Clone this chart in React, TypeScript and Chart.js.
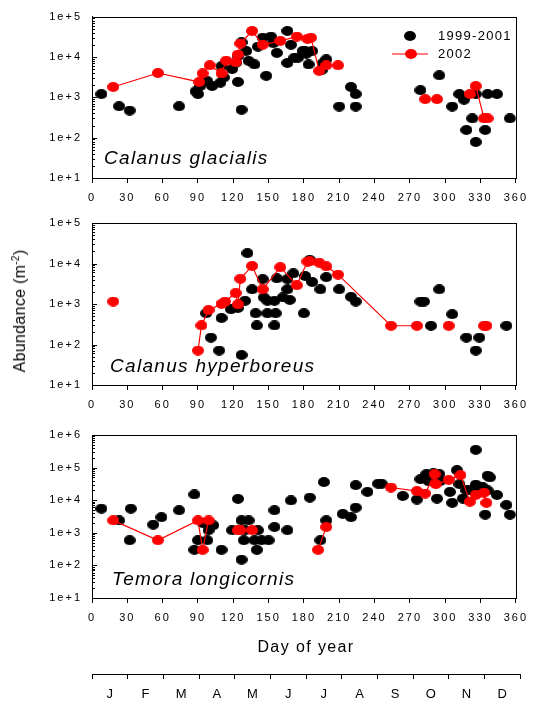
import React, { useEffect, useRef } from 'react';
import { Chart, registerables } from 'chart.js';

Chart.register(...registerables);

const FONT = 'Arial, "Liberation Sans", sans-serif';

// ---------- axis ticks / labels ----------
const dayTicks = [0, 30, 60, 90, 120, 150, 180, 210, 240, 270, 300, 330, 360];
const monthTickValues = [0, 15, 30, 45, 60, 75, 90, 105, 120, 135, 150, 165, 180, 195, 210, 225, 240, 255, 270, 285, 300, 315, 330, 345, 360];
const monthLabels = ['J', 'F', 'M', 'A', 'M', 'J', 'J', 'A', 'S', 'O', 'N', 'D'];
const yTicks5 = [10, 100, 1000, 10000, 100000];
const yTicks6 = [10, 100, 1000, 10000, 100000, 1000000];
const legendLabels = ['1999-2001', '2002'];

// ---------- Calanus glacialis ----------
const glacialisHistDay = [8, 23, 32, 74, 88, 90, 92, 98, 102, 109, 110, 112, 119, 122, 124, 124, 127, 127, 131, 133, 138, 141, 145, 148, 152, 154, 157, 166, 166, 169, 172, 175, 179, 181, 182, 184, 187, 195, 196, 199, 210, 220, 224, 224, 279, 295, 306, 312, 316, 318, 323, 326, 326, 334, 336, 344, 355];
const glacialisHistAbund = [1200, 600, 470, 600, 1400, 1200, 1900, 2500, 1900, 2300, 5900, 3100, 5000, 7100, 10500, 2400, 490, 23000, 14000, 8000, 6500, 18000, 30000, 3400, 32000, 22000, 12600, 44000, 7100, 20000, 9600, 9600, 14000, 14000, 12000, 6500, 14000, 4700, 7000, 8700, 590, 1800, 1200, 590, 1500, 3500, 590, 1200, 870, 155, 300, 78, 1200, 155, 1200, 1200, 300];
const glacialis2002Day = [18, 56, 91, 94, 100, 110, 114, 122, 124, 126, 136, 145, 160, 174, 183, 186, 193, 199, 209, null, 283, null, 293, null, 321, 326, 333, 336];
const glacialis2002Abund = [1800, 4000, 2400, 3900, 6200, 3900, 8100, 7400, 11500, 21500, 44000, 20000, 25000, 32000, 28000, 30000, 4500, 6200, 6200, null, 900, null, 900, null, 1200, 1900, 300, 300];

// ---------- Calanus hyperboreus ----------
const hyperHistDay = [97, 101, 108, 110, 118, 124, 127, 130, 132, 136, 139, 140, 145, 146, 149, 149, 155, 156, 155, 157, 162, 166, 166, 168, 171, 180, 181, 185, 187, 194, 199, 210, 220, 224, 279, 282, 288, 295, 306, 318, 329, 326, 352];
const hyperHistAbund = [590, 148, 71, 450, 740, 800, 55, 1200, 18000, 2300, 590, 295, 4100, 1450, 1200, 590, 1200, 590, 295, 4300, 1450, 2300, 4100, 1260, 5700, 590, 4900, 12300, 3500, 2300, 4600, 2300, 1500, 1150, 1150, 1150, 290, 2300, 560, 148, 148, 71, 290];
const hyper2002Day = [18, null, 90, 93, 99, 110, 113, 122, 124, 126, 136, 145, 160, 174, 183, 185, 193, 199, 209, 254, 276, null, 303, null, 333, 335];
const hyper2002Abund = [1150, null, 71, 295, 710, 1000, 1150, 1860, 980, 4200, 8700, 2300, 8100, 2900, 11200, 11300, 10500, 8500, 5300, 290, 290, null, 290, null, 290, 290];

// ---------- Temora longicornis ----------
const temoraHistDay = [8, 23, 33, 32, 52, 59, 74, 87, 87, 90, 94, 99, 103, 98, 110, 119, 124, 127, 133, 127, 130, 141, 129, 138, 144, 150, 140, 155, 155, 166, 169, 185, 194, 197, 199, 213, 220, 224, 224, 234, 243, 246, 264, 276, 279, 284, 286, 290, 293, 295, 296, 304, 306, 310, 312, 315, 318, 322, 326, 326, 329, 332, 334, 336, 338, 336, 344, 352, 355];
const temoraHistAbund = [5500, 2400, 5500, 590, 1780, 3000, 4900, 15000, 300, 590, 2000, 1200, 1700, 590, 300, 1200, 11000, 2400, 2400, 150, 1200, 1200, 590, 590, 590, 590, 300, 1500, 4900, 1200, 9800, 12000, 590, 36000, 2400, 3800, 3000, 5900, 29000, 18000, 32000, 32000, 13500, 10500, 44000, 63000, 38000, 67000, 11200, 63000, 39000, 18000, 8300, 83000, 31000, 11200, 20000, 20000, 30000, 350000, 25000, 25000, 3600, 56000, 50000, 20000, 14500, 7100, 3600];
const temora2002Day = [18, 56, 90, 94, 99, null, 124, 126, 136, null, 192, 199, null, 254, 276, 283, 291, 292, 303, 313, 321, 326, 333, 335];
const temora2002Abund = [2400, 590, 2400, 300, 2400, null, 1200, 1200, 1200, null, 300, 1500, null, 24500, 19000, 16000, 63000, 31000, 42000, 59000, 9000, 14500, 17000, 8300];

function makeDot(color: string): HTMLCanvasElement {
  const c = document.createElement('canvas');
  c.width = 12;
  c.height = 10;
  const g = c.getContext('2d')!;
  g.fillStyle = color;
  g.beginPath();
  g.ellipse(6, 5, 6, 5, 0, 0, Math.PI * 2);
  g.fill();
  return c;
}

function toPoints(days: (number | null)[], vals: (number | null)[]) {
  return days.map((d, i) => ({ x: d as any, y: vals[i] as any }));
}

interface PanelSpec {
  histDay: number[];
  histVal: number[];
  newDay: (number | null)[];
  newVal: (number | null)[];
  yTicks: number[];
  label: string;
  labelDx: number;
  labelDy: number;
  legend: boolean;
  padTop: number;
}

function panelConfig(spec: PanelSpec, blackDot: HTMLCanvasElement, redDot: HTMLCanvasElement): any {
  const yMax = spec.yTicks[spec.yTicks.length - 1];
  const panelPlugin = {
    id: 'panelDeco',
    beforeDraw(chart: any) {
      chart.ctx.letterSpacing = '2px';
    },
    afterDraw(chart: any) {
      const ctx = chart.ctx;
      const a = chart.chartArea;
      const ys = chart.scales.y;
      ctx.save();
      ctx.letterSpacing = '0px';
      ctx.strokeStyle = '#000';
      ctx.lineWidth = 1;
      const L = Math.round(a.left), T = Math.round(a.top), R = Math.round(a.right), B = Math.round(a.bottom);
      ctx.strokeRect(L + 0.5, T + 0.5, R - L, B - T);
      // inside ticks on the log axis
      ctx.beginPath();
      for (let i = 0; i < spec.yTicks.length - 1; i++) {
        const base = spec.yTicks[i];
        for (let k = 1; k <= 9; k++) {
          const py = Math.round(ys.getPixelForValue(base * k)) + 0.5;
          const len = k === 1 ? 5 : 3;
          ctx.moveTo(L, py);
          ctx.lineTo(L + len, py);
        }
      }
      const pyTop = Math.round(ys.getPixelForValue(yMax)) + 0.5;
      ctx.moveTo(L, pyTop);
      ctx.lineTo(L + 5, pyTop);
      ctx.stroke();
      // species label
      ctx.fillStyle = '#000';
      ctx.font = 'italic 19px ' + FONT;
      ctx.letterSpacing = '1.3px';
      ctx.textBaseline = 'alphabetic';
      ctx.textAlign = 'left';
      ctx.fillText(spec.label, L + spec.labelDx, B - spec.labelDy);
      if (spec.legend) {
        ctx.font = '13px ' + FONT;
        ctx.letterSpacing = '1.3px';
        ctx.textBaseline = 'middle';
        ctx.drawImage(blackDot, L + 318 - 6, T + 19 - 5);
        ctx.fillText(legendLabels[0], L + 346, T + 19);
        ctx.strokeStyle = '#ff0000';
        ctx.lineWidth = 1.2;
        ctx.beginPath();
        ctx.moveTo(L + 300, T + 37);
        ctx.lineTo(L + 336, T + 37);
        ctx.stroke();
        ctx.drawImage(redDot, L + 319 - 6, T + 37 - 5);
        ctx.fillText(legendLabels[1], L + 346, T + 37);
      }
      ctx.restore();
    },
  };
  return {
    type: 'scatter',
    data: {
      datasets: [
        {
          label: legendLabels[1],
          data: toPoints(spec.newDay, spec.newVal),
          showLine: true,
          spanGaps: false,
          borderColor: '#ff0000',
          backgroundColor: '#ff0000',
          borderWidth: 1.2,
          pointStyle: redDot,
          pointRadius: 6,
        },
        {
          label: legendLabels[0],
          data: toPoints(spec.histDay, spec.histVal),
          showLine: false,
          borderColor: '#000',
          backgroundColor: '#000',
          pointStyle: blackDot,
          pointRadius: 6,
        },
      ],
    },
    options: {
      animation: false,
      responsive: false,
      events: [],
      layout: { padding: { top: spec.padTop, right: 13, left: 0, bottom: 0 } },
      plugins: { legend: { display: false }, tooltip: { enabled: false } },
      scales: {
        x: {
          type: 'linear',
          min: 0,
          max: 360,
          position: 'bottom',
          afterBuildTicks: (s: any) => { s.ticks = dayTicks.map((v) => ({ value: v })); },
          afterFit: (s: any) => { s.height = 27; },
          ticks: {
            autoSkip: false, maxRotation: 0, minRotation: 0, padding: 8, color: '#000',
            font: { family: FONT, size: 11 },
          },
          grid: { drawOnChartArea: false, drawTicks: true, tickLength: 5, tickColor: '#000', tickWidth: 1 },
          border: { color: '#000', width: 1 },
        },
        y: {
          type: 'logarithmic',
          min: 10,
          max: yMax,
          afterBuildTicks: (s: any) => { s.ticks = spec.yTicks.map((v) => ({ value: v })); },
          afterFit: (s: any) => { s.width = 92; },
          ticks: {
            autoSkip: false, padding: 10, color: '#000',
            font: { family: FONT, size: 11 },
            callback: (v: any) => '1e+' + Math.round(Math.log10(Number(v))),
          },
          grid: { drawOnChartArea: false, drawTicks: false },
          border: { color: '#000', width: 1 },
        },
      },
    },
    plugins: [panelPlugin],
  };
}

function monthConfig(): any {
  return {
    type: 'scatter',
    data: { datasets: [] },
    options: {
      animation: false,
      responsive: false,
      events: [],
      layout: { padding: { top: 0, right: 13, left: 92, bottom: 0 } },
      plugins: { legend: { display: false }, tooltip: { enabled: false } },
      scales: {
        x: {
          type: 'linear',
          min: 0,
          max: 360,
          position: 'bottom',
          afterBuildTicks: (s: any) => { s.ticks = monthTickValues.map((v) => ({ value: v })); },
          afterFit: (s: any) => { s.height = 28; },
          ticks: {
            autoSkip: false, maxRotation: 0, minRotation: 0, padding: 8, color: '#000',
            font: { family: FONT, size: 13 },
            callback: (v: any) => (Number(v) % 30 === 15 ? monthLabels[(Number(v) - 15) / 30] : ''),
          },
          grid: {
            drawOnChartArea: false, drawTicks: true, tickLength: 5, tickWidth: 1,
            tickColor: (c: any) => (c.tick && c.tick.value % 30 === 0 ? '#000' : 'rgba(0,0,0,0)'),
          },
          border: { color: '#000', width: 1 },
        },
        y: { display: false, type: 'linear', min: 0, max: 1 },
      },
    },
  };
}

export default function App() {
  const c1 = useRef<HTMLCanvasElement>(null);
  const c2 = useRef<HTMLCanvasElement>(null);
  const c3 = useRef<HTMLCanvasElement>(null);
  const c4 = useRef<HTMLCanvasElement>(null);

  useEffect(() => {
    const blackDot = makeDot('#000000');
    const redDot = makeDot('#ff0000');
    const charts: Chart[] = [];
    charts.push(new Chart(c1.current!, panelConfig({
      histDay: glacialisHistDay, histVal: glacialisHistAbund,
      newDay: glacialis2002Day, newVal: glacialis2002Abund,
      yTicks: yTicks5, label: 'Calanus glacialis', labelDx: 12, labelDy: 14, legend: true, padTop: 15,
    }, blackDot, redDot)));
    charts.push(new Chart(c2.current!, panelConfig({
      histDay: hyperHistDay, histVal: hyperHistAbund,
      newDay: hyper2002Day, newVal: hyper2002Abund,
      yTicks: yTicks5, label: 'Calanus hyperboreus', labelDx: 18, labelDy: 13, legend: false, padTop: 18,
    }, blackDot, redDot)));
    charts.push(new Chart(c3.current!, panelConfig({
      histDay: temoraHistDay, histVal: temoraHistAbund,
      newDay: temora2002Day, newVal: temora2002Abund,
      yTicks: yTicks6, label: 'Temora longicornis', labelDx: 20, labelDy: 13, legend: false, padTop: 23,
    }, blackDot, redDot)));
    charts.push(new Chart(c4.current!, monthConfig()));
    return () => charts.forEach((c) => c.destroy());
  }, []);

  const abs = (top: number): React.CSSProperties => ({ position: 'absolute', left: 0, top });

  return (
    <div style={{ position: 'absolute', left: 0, top: 0, width: 533, height: 702, background: '#fff', fontFamily: FONT, color: '#000' }}>
      <canvas ref={c1} width={533} height={205} style={abs(0)} />
      <canvas ref={c2} width={533} height={207} style={abs(205)} />
      <canvas ref={c3} width={533} height={213} style={abs(412)} />
      <canvas ref={c4} width={533} height={47} style={abs(655)} />
      <div style={{ position: 'absolute', left: 92, top: 638, width: 428, textAlign: 'center', fontSize: 16, letterSpacing: '1.4px', lineHeight: '18px', whiteSpace: 'nowrap' }}>
        Day of year
      </div>
      <div style={{ position: 'absolute', left: 20, top: 311, transform: 'translate(-50%, -50%) rotate(-90deg)', whiteSpace: 'nowrap', fontSize: 16, letterSpacing: '0.3px', lineHeight: '18px' }}>
        Abundance (m<sup style={{ fontSize: 10, lineHeight: 0 }}>-2</sup>)
      </div>
    </div>
  );
}
